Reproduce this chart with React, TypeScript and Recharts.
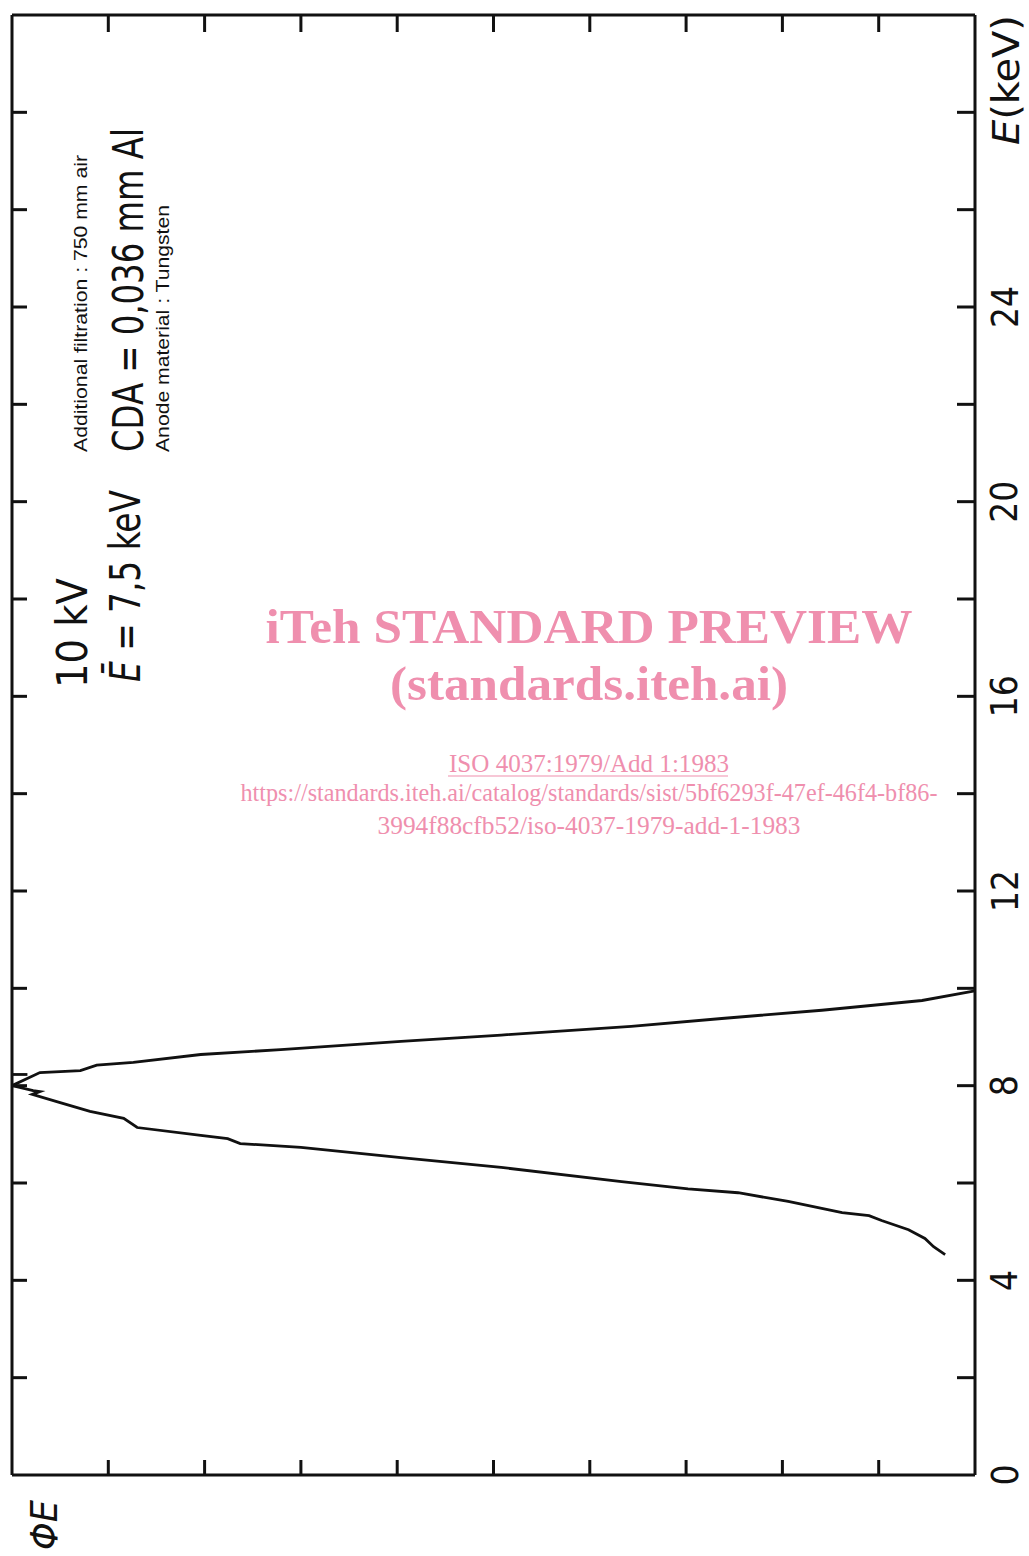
import { LineChart, Line, XAxis, YAxis } from "recharts";

// spectrum at 10 kV: E in keV, fluence in relative units (0..10 across the frame)
const ENERGY = [
  9.95, 9.75, 9.55, 9.38, 9.22, 9.04, 8.91, 8.74, 8.64, 8.48, 8.42, 8.31, 8.27,
  8.0, 7.9, 7.88, 7.82, 7.65, 7.47, 7.33, 7.14, 6.98, 6.91, 6.81, 6.73, 6.52,
  6.32, 6.03, 5.88, 5.8, 5.62, 5.39, 5.33, 5.23, 5.04, 4.86, 4.69, 4.53,
];
const FLUENCE = [
  0, 0.55, 1.59, 2.63, 3.57, 4.92, 5.96, 7.21, 8.04, 8.74, 9.12, 9.29, 9.71,
  10, 9.78, 9.71, 9.79, 9.5, 9.19, 8.84, 8.7, 8.04, 7.76, 7.63, 7.0, 5.96,
  4.92, 3.67, 2.98, 2.46, 1.94, 1.38, 1.1, 0.97, 0.69, 0.52, 0.43, 0.31,
];

// the bit where the peak runs off the frame
const ENERGY_CLIP = [8.23, 8.23];
const FLUENCE_CLIP = [10, 9.84];

const E_TICKS = [2, 4, 6, 8, 10, 12, 14, 16, 18, 20, 22, 24, 26, 28];
const E_LABELS = [0, 4, 8, 12, 16, 20, 24];
const PHI_TICKS = [1, 2, 3, 4, 5, 6, 7, 8, 9];

const data = ENERGY.map((e, i) => ({ e, phi: FLUENCE[i] }));
const clipData = ENERGY_CLIP.map((e, i) => ({ e, phi: FLUENCE_CLIP[i] }));

const INK = "#111";
const PINK = "#ef8fae";
const DIN = "'DejaVu Sans Condensed', 'DejaVu Sans', sans-serif";
const SERIF = "'Liberation Serif', 'Times New Roman', serif";
const blank = () => "";

// right-hand labels sit rotated, centred on x=1005
function ELabel(props: any) {
  const { y, payload } = props;
  const bx = 1005;
  const two = String(payload.value).length > 1;
  return (
    <text
      x={bx}
      y={y}
      transform={`rotate(-90 ${bx} ${y})`}
      textAnchor="middle"
      dominantBaseline="central"
      fontFamily={DIN}
      fontSize={37}
      fill={INK}
      textLength={two ? 42 : undefined}
      lengthAdjust="spacingAndGlyphs"
    >
      {payload.value}
    </text>
  );
}

function Vert({ x, y, size, len, family = DIN, baseline, children }: any) {
  return (
    <text
      x={x}
      y={y}
      transform={`rotate(-90 ${x} ${y})`}
      fontSize={size}
      fontFamily={family}
      fill={INK}
      dominantBaseline={baseline}
      textLength={len}
      lengthAdjust="spacingAndGlyphs"
    >
      {children}
    </text>
  );
}

function Mark({ y, size, len, bold, children }: any) {
  return (
    <text
      x={589}
      y={y}
      textAnchor="middle"
      fontSize={size}
      fontFamily={SERIF}
      fontWeight={bold ? "bold" : "normal"}
      fill={PINK}
      textLength={len}
      lengthAdjust="spacingAndGlyphs"
    >
      {children}
    </text>
  );
}

export default function App() {
  return (
    <div style={{ position: "absolute", left: 0, top: 0, width: 1029, height: 1556, background: "#fff" }}>
      <LineChart
        width={1029}
        height={1556}
        layout="vertical"
        data={data}
        margin={{ top: 15, right: 0, bottom: 81, left: 12 }}
      >
        <XAxis
          xAxisId="b"
          orientation="bottom"
          type="number"
          dataKey="phi"
          domain={[0, 10]}
          reversed
          ticks={PHI_TICKS}
          mirror
          height={1}
          tickSize={15}
          tickFormatter={blank}
          stroke={INK}
          strokeWidth={3}
          allowDataOverflow
        />
        <XAxis
          xAxisId="t"
          orientation="top"
          type="number"
          dataKey="phi"
          domain={[0, 10]}
          reversed
          ticks={PHI_TICKS}
          mirror
          height={1}
          tickSize={17}
          tickFormatter={blank}
          stroke={INK}
          strokeWidth={3}
          allowDataOverflow
        />
        <YAxis
          yAxisId="l"
          orientation="left"
          type="number"
          dataKey="e"
          domain={[0, 30]}
          reversed
          ticks={E_TICKS}
          mirror
          width={1}
          tickSize={15}
          tickFormatter={blank}
          stroke={INK}
          strokeWidth={3}
          allowDataOverflow
        />
        <YAxis
          yAxisId="r"
          orientation="right"
          type="number"
          dataKey="e"
          domain={[0, 30]}
          reversed
          ticks={E_TICKS}
          mirror
          width={1}
          tickSize={18}
          tickFormatter={blank}
          stroke={INK}
          strokeWidth={3}
          allowDataOverflow
        />
        <YAxis
          yAxisId="rl"
          orientation="right"
          type="number"
          dataKey="e"
          domain={[0, 30]}
          reversed
          ticks={E_LABELS}
          width={54}
          axisLine={false}
          tickLine={false}
          tick={ELabel}
          allowDataOverflow
        />
        <Line
          xAxisId="b"
          yAxisId="r"
          dataKey="phi"
          type="linear"
          stroke={INK}
          strokeWidth={2.8}
          dot={false}
          isAnimationActive={false}
        />
        <Line
          xAxisId="b"
          yAxisId="r"
          data={clipData}
          dataKey="phi"
          type="linear"
          stroke={INK}
          strokeWidth={2.8}
          dot={false}
          isAnimationActive={false}
        />
      </LineChart>

      <svg
        width={1029}
        height={1556}
        style={{ position: "absolute", left: 0, top: 0, pointerEvents: "none" }}
      >
        <Vert x={87} y={688} size={42} len={110}>10 kV</Vert>
        <Vert x={140} y={682} size={42} len={192}>
          <tspan fontStyle="italic">Ē</tspan> = 7,5 keV
        </Vert>
        <Vert x={143} y={452} size={42} len={324}>CDA = 0,036 mm Al</Vert>
        <Vert x={87} y={452} size={18} len={297} family="'Liberation Sans', Arial, sans-serif">
          Additional filtration : 750 mm air
        </Vert>
        <Vert x={169} y={452} size={18} len={247} family="'Liberation Sans', Arial, sans-serif">
          Anode material : Tungsten
        </Vert>
        <Vert x={1006} y={145} size={37} len={130} baseline="central">
          <tspan fontStyle="italic">E</tspan>(keV)
        </Vert>
        <Vert x={57} y={1550} size={38} len={50}>
          <tspan fontStyle="italic">ΦE</tspan>
        </Vert>

        <Mark y={643} size={48} len={647} bold>iTeh STANDARD PREVIEW</Mark>
        <Mark y={700} size={48} len={398} bold>(standards.iteh.ai)</Mark>
        <Mark y={772} size={26} len={280}>ISO 4037:1979/Add 1:1983</Mark>
        <line x1={448} y1={776} x2={728} y2={776} stroke={PINK} strokeWidth={1.2} />
        <Mark y={801} size={26} len={697}>
          https://standards.iteh.ai/catalog/standards/sist/5bf6293f-47ef-46f4-bf86-
        </Mark>
        <Mark y={834} size={26} len={423}>3994f88cfb52/iso-4037-1979-add-1-1983</Mark>
      </svg>
    </div>
  );
}
